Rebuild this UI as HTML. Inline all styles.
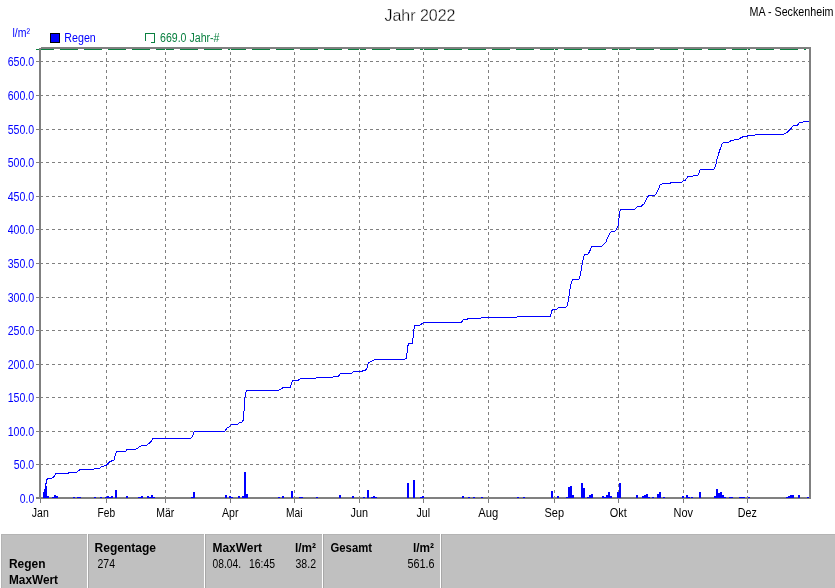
<!DOCTYPE html><html><head><meta charset="utf-8"><title>Jahr 2022</title>
<style>html,body{margin:0;padding:0;background:#fff;}body{width:835px;height:588px;overflow:hidden;font-family:"Liberation Sans",sans-serif;}svg{display:block;will-change:transform;}text{font-family:"Liberation Sans",sans-serif;}</style></head><body>
<svg width="835" height="588" viewBox="0 0 835 588">
<rect x="0" y="0" width="835" height="588" fill="#ffffff"/>
<g shape-rendering="crispEdges" stroke="#808080" stroke-width="1" stroke-dasharray="3 3">
<line x1="46" y1="61.5" x2="809" y2="61.5"/>
<line x1="46" y1="95.5" x2="809" y2="95.5"/>
<line x1="46" y1="129.5" x2="809" y2="129.5"/>
<line x1="46" y1="162.5" x2="809" y2="162.5"/>
<line x1="46" y1="196.5" x2="809" y2="196.5"/>
<line x1="46" y1="229.5" x2="809" y2="229.5"/>
<line x1="46" y1="263.5" x2="809" y2="263.5"/>
<line x1="46" y1="297.5" x2="809" y2="297.5"/>
<line x1="46" y1="330.5" x2="809" y2="330.5"/>
<line x1="46" y1="364.5" x2="809" y2="364.5"/>
<line x1="46" y1="397.5" x2="809" y2="397.5"/>
<line x1="46" y1="431.5" x2="809" y2="431.5"/>
<line x1="46" y1="464.5" x2="809" y2="464.5"/>
<line x1="106.5" y1="52" x2="106.5" y2="497"/>
<line x1="165.5" y1="52" x2="165.5" y2="497"/>
<line x1="230.5" y1="52" x2="230.5" y2="497"/>
<line x1="294.5" y1="52" x2="294.5" y2="497"/>
<line x1="359.5" y1="52" x2="359.5" y2="497"/>
<line x1="423.5" y1="52" x2="423.5" y2="497"/>
<line x1="488.5" y1="52" x2="488.5" y2="497"/>
<line x1="554.5" y1="52" x2="554.5" y2="497"/>
<line x1="618.5" y1="52" x2="618.5" y2="497"/>
<line x1="683.5" y1="52" x2="683.5" y2="497"/>
<line x1="747.5" y1="52" x2="747.5" y2="497"/>
</g>
<g shape-rendering="crispEdges"><line x1="36" y1="49.5" x2="806" y2="49.5" stroke="#0a8040" stroke-width="1" stroke-dasharray="18 6"/>
<rect x="106" y="49" width="1" height="1" fill="#f4f4f4"/>
<rect x="165" y="49" width="1" height="1" fill="#f4f4f4"/>
<rect x="230" y="49" width="1" height="1" fill="#f4f4f4"/>
<rect x="294" y="49" width="1" height="1" fill="#f4f4f4"/>
<rect x="359" y="49" width="1" height="1" fill="#f4f4f4"/>
<rect x="423" y="49" width="1" height="1" fill="#f4f4f4"/>
<rect x="488" y="49" width="1" height="1" fill="#f4f4f4"/>
<rect x="554" y="49" width="1" height="1" fill="#f4f4f4"/>
<rect x="618" y="49" width="1" height="1" fill="#f4f4f4"/>
<rect x="683" y="49" width="1" height="1" fill="#f4f4f4"/>
<rect x="747" y="49" width="1" height="1" fill="#f4f4f4"/>
</g>
<polyline points="45.6,487.0 46.4,480.3 48.2,478.3 51.8,478.3 53.6,477.0 56.0,473.4 67.9,473.4 69.7,472.2 76.9,472.2 80.3,469.3 93.7,469.3 94.9,468.3 99.7,468.3 101.5,466.3 104.5,465.9 106.5,465.1 109.9,461.7 114.0,459.9 115.5,454.0 117.0,451.6 125.4,451.6 127.2,449.3 135.8,449.3 138.7,447.3 142.2,445.4 146.6,445.4 150.9,441.8 153.3,438.2 191.1,438.2 192.5,436.8 194.4,431.3 224.9,431.3 227.0,428.1 229.2,426.7 231.4,424.6 237.8,424.6 239.3,422.4 242.1,422.1 243.4,419.8 243.9,413.3 244.6,401.8 245.3,393.2 247.2,390.3 278.1,390.3 281.0,389.3 283.4,387.1 290.3,387.1 291.5,383.1 292.5,380.7 298.2,380.4 300.4,378.4 315.5,378.4 316.9,377.4 332.7,377.4 333.4,376.6 338.5,376.4 340.3,373.5 351.4,373.4 353.6,371.2 362.2,371.2 363.7,370.2 366.6,369.9 367.6,365.0 368.7,362.5 371.6,361.4 375.2,359.2 404.6,359.2 406.4,358.1 407.2,352.0 407.8,346.3 408.7,343.4 412.3,343.1 413.0,338.4 413.7,330.5 414.7,325.5 419.7,325.5 423.3,322.6 461.4,322.5 463.1,319.6 467.2,319.2 468.7,318.4 480.9,318.1 482.0,317.4 516.8,317.4 517.5,316.4 550.6,316.4 551.6,311.3 552.7,309.5 556.3,309.5 558.5,307.3 565.7,307.3 567.5,305.6 568.5,299.1 570.0,289.1 571.4,281.9 573.0,279.3 579.4,279.0 580.6,273.3 582.3,263.2 583.7,256.8 584.7,254.3 588.3,254.0 591.9,246.4 601.7,246.1 605.7,242.4 609.6,233.3 611.5,231.3 615.3,231.0 617.9,226.6 618.9,218.7 619.6,212.2 620.6,209.6 634.4,209.5 637.4,206.5 641.3,206.2 644.5,203.3 647.2,197.5 649.1,195.4 654.4,195.4 656.6,193.2 658.7,188.9 660.2,184.6 663.0,183.5 670.2,183.2 671.6,182.5 681.7,182.2 683.4,180.6 685.3,180.3 688.2,176.4 692.5,176.1 693.9,175.4 698.2,175.1 700.4,169.2 713.8,169.1 715.5,166.4 716.8,159.5 719.8,150.1 722.1,143.9 723.2,142.5 728.5,142.3 731.5,140.4 737.9,139.4 743.6,136.4 747.4,136.1 748.7,135.4 755.2,135.1 756.7,134.3 783.3,134.3 787.6,132.1 791.2,128.5 793.3,125.2 797.6,125.1 799.5,122.5 802.7,122.2 804.1,121.2 809.0,121.2" fill="none" stroke="#0000ff" stroke-width="1" stroke-linejoin="round" shape-rendering="crispEdges"/>
<g shape-rendering="crispEdges" fill="#808080">
<rect x="39" y="48" width="2" height="451"/>
<rect x="41" y="47" width="770" height="2"/>
<rect x="809" y="47" width="2" height="452"/>
<rect x="36" y="497" width="775" height="2"/>
<rect x="36" y="61" width="7" height="1"/>
<rect x="36" y="95" width="7" height="1"/>
<rect x="36" y="129" width="7" height="1"/>
<rect x="36" y="162" width="7" height="1"/>
<rect x="36" y="196" width="7" height="1"/>
<rect x="36" y="229" width="7" height="1"/>
<rect x="36" y="263" width="7" height="1"/>
<rect x="36" y="297" width="7" height="1"/>
<rect x="36" y="330" width="7" height="1"/>
<rect x="36" y="364" width="7" height="1"/>
<rect x="36" y="397" width="7" height="1"/>
<rect x="36" y="431" width="7" height="1"/>
<rect x="36" y="464" width="7" height="1"/>
<rect x="40" y="499" width="1" height="4"/>
<rect x="106" y="499" width="1" height="4"/>
<rect x="165" y="499" width="1" height="4"/>
<rect x="230" y="499" width="1" height="4"/>
<rect x="294" y="499" width="1" height="4"/>
<rect x="359" y="499" width="1" height="4"/>
<rect x="423" y="499" width="1" height="4"/>
<rect x="488" y="499" width="1" height="4"/>
<rect x="554" y="499" width="1" height="4"/>
<rect x="618" y="499" width="1" height="4"/>
<rect x="683" y="499" width="1" height="4"/>
<rect x="747" y="499" width="1" height="4"/>
</g>
<g shape-rendering="crispEdges" fill="#0000ff">
<rect x="43" y="492" width="1" height="6"/>
<rect x="44" y="489" width="1" height="9"/>
<rect x="45" y="486" width="2" height="12"/>
<rect x="47" y="496" width="2" height="2"/>
<rect x="52" y="497" width="2" height="1"/>
<rect x="54" y="495" width="2" height="3"/>
<rect x="56" y="496" width="2" height="2"/>
<rect x="73" y="497" width="2" height="1"/>
<rect x="77" y="497" width="4" height="1"/>
<rect x="94" y="497" width="2" height="1"/>
<rect x="100" y="497" width="2" height="1"/>
<rect x="105" y="497" width="2" height="1"/>
<rect x="107" y="496" width="2" height="2"/>
<rect x="109" y="497" width="2" height="1"/>
<rect x="111" y="496" width="2" height="2"/>
<rect x="115" y="490" width="2" height="8"/>
<rect x="126" y="496" width="2" height="2"/>
<rect x="138" y="497" width="3" height="1"/>
<rect x="141" y="496" width="2" height="2"/>
<rect x="147" y="496" width="2" height="2"/>
<rect x="149" y="497" width="2" height="1"/>
<rect x="151" y="495" width="2" height="3"/>
<rect x="153" y="497" width="2" height="1"/>
<rect x="191" y="497" width="2" height="1"/>
<rect x="193" y="492" width="2" height="6"/>
<rect x="225" y="495" width="2" height="3"/>
<rect x="229" y="496" width="2" height="2"/>
<rect x="231" y="497" width="2" height="1"/>
<rect x="238" y="496" width="2" height="2"/>
<rect x="242" y="496" width="2" height="2"/>
<rect x="244" y="472" width="2" height="26"/>
<rect x="246" y="494" width="2" height="4"/>
<rect x="278" y="497" width="2" height="1"/>
<rect x="282" y="496" width="2" height="2"/>
<rect x="291" y="491" width="2" height="7"/>
<rect x="299" y="497" width="4" height="1"/>
<rect x="316" y="497" width="2" height="1"/>
<rect x="339" y="495" width="2" height="3"/>
<rect x="352" y="496" width="2" height="2"/>
<rect x="363" y="497" width="2" height="1"/>
<rect x="367" y="490" width="2" height="8"/>
<rect x="371" y="497" width="2" height="1"/>
<rect x="373" y="496" width="2" height="2"/>
<rect x="375" y="497" width="2" height="1"/>
<rect x="407" y="483" width="2" height="15"/>
<rect x="413" y="480" width="2" height="18"/>
<rect x="420" y="497" width="2" height="1"/>
<rect x="422" y="496" width="2" height="2"/>
<rect x="462" y="496" width="2" height="2"/>
<rect x="468" y="497" width="2" height="1"/>
<rect x="473" y="497" width="2" height="1"/>
<rect x="481" y="497" width="2" height="1"/>
<rect x="517" y="497" width="2" height="1"/>
<rect x="523" y="497" width="2" height="1"/>
<rect x="551" y="491" width="2" height="7"/>
<rect x="557" y="496" width="2" height="2"/>
<rect x="566" y="497" width="2" height="1"/>
<rect x="568" y="487" width="2" height="11"/>
<rect x="570" y="486" width="2" height="12"/>
<rect x="572" y="495" width="2" height="3"/>
<rect x="581" y="483" width="2" height="15"/>
<rect x="583" y="488" width="2" height="10"/>
<rect x="587" y="497" width="2" height="1"/>
<rect x="589" y="495" width="2" height="3"/>
<rect x="591" y="494" width="2" height="4"/>
<rect x="602" y="496" width="2" height="2"/>
<rect x="604" y="497" width="2" height="1"/>
<rect x="606" y="495" width="2" height="3"/>
<rect x="608" y="492" width="2" height="6"/>
<rect x="610" y="496" width="2" height="2"/>
<rect x="617" y="492" width="2" height="6"/>
<rect x="619" y="483" width="2" height="15"/>
<rect x="636" y="495" width="2" height="3"/>
<rect x="642" y="496" width="2" height="2"/>
<rect x="644" y="495" width="2" height="3"/>
<rect x="646" y="494" width="2" height="4"/>
<rect x="648" y="497" width="2" height="1"/>
<rect x="652" y="497" width="2" height="1"/>
<rect x="657" y="494" width="2" height="4"/>
<rect x="659" y="492" width="2" height="6"/>
<rect x="663" y="497" width="2" height="1"/>
<rect x="682" y="496" width="2" height="2"/>
<rect x="686" y="495" width="2" height="3"/>
<rect x="688" y="497" width="2" height="1"/>
<rect x="691" y="497" width="2" height="1"/>
<rect x="699" y="492" width="2" height="6"/>
<rect x="714" y="496" width="2" height="2"/>
<rect x="716" y="489" width="2" height="9"/>
<rect x="718" y="493" width="2" height="5"/>
<rect x="720" y="492" width="2" height="6"/>
<rect x="722" y="495" width="2" height="3"/>
<rect x="724" y="497" width="2" height="1"/>
<rect x="729" y="497" width="4" height="1"/>
<rect x="739" y="497" width="6" height="1"/>
<rect x="748" y="497" width="2" height="1"/>
<rect x="786" y="497" width="2" height="1"/>
<rect x="788" y="496" width="2" height="2"/>
<rect x="790" y="495" width="4" height="3"/>
<rect x="798" y="495" width="2" height="3"/>
<rect x="807" y="497" width="2" height="1"/>
</g>
<text x="7.700000000000003" y="65.5" font-size="12" fill="#0000ff" textLength="26.5" lengthAdjust="spacingAndGlyphs">650.0</text>
<text x="7.700000000000003" y="99.5" font-size="12" fill="#0000ff" textLength="26.5" lengthAdjust="spacingAndGlyphs">600.0</text>
<text x="7.700000000000003" y="133.5" font-size="12" fill="#0000ff" textLength="26.5" lengthAdjust="spacingAndGlyphs">550.0</text>
<text x="7.700000000000003" y="166.5" font-size="12" fill="#0000ff" textLength="26.5" lengthAdjust="spacingAndGlyphs">500.0</text>
<text x="7.700000000000003" y="200.5" font-size="12" fill="#0000ff" textLength="26.5" lengthAdjust="spacingAndGlyphs">450.0</text>
<text x="7.700000000000003" y="233.5" font-size="12" fill="#0000ff" textLength="26.5" lengthAdjust="spacingAndGlyphs">400.0</text>
<text x="7.700000000000003" y="267.5" font-size="12" fill="#0000ff" textLength="26.5" lengthAdjust="spacingAndGlyphs">350.0</text>
<text x="7.700000000000003" y="301.5" font-size="12" fill="#0000ff" textLength="26.5" lengthAdjust="spacingAndGlyphs">300.0</text>
<text x="7.700000000000003" y="334.5" font-size="12" fill="#0000ff" textLength="26.5" lengthAdjust="spacingAndGlyphs">250.0</text>
<text x="7.700000000000003" y="368.5" font-size="12" fill="#0000ff" textLength="26.5" lengthAdjust="spacingAndGlyphs">200.0</text>
<text x="7.700000000000003" y="401.5" font-size="12" fill="#0000ff" textLength="26.5" lengthAdjust="spacingAndGlyphs">150.0</text>
<text x="7.700000000000003" y="435.5" font-size="12" fill="#0000ff" textLength="26.5" lengthAdjust="spacingAndGlyphs">100.0</text>
<text x="13.700000000000003" y="468.5" font-size="12" fill="#0000ff" textLength="20.5" lengthAdjust="spacingAndGlyphs">50.0</text>
<text x="19.700000000000003" y="502.5" font-size="12" fill="#0000ff" textLength="14.5" lengthAdjust="spacingAndGlyphs">0.0</text>
<text x="31.799999999999997" y="516.6" font-size="12" fill="#000" textLength="17" lengthAdjust="spacingAndGlyphs">Jan</text>
<text x="97.55" y="516.6" font-size="12" fill="#000" textLength="17.5" lengthAdjust="spacingAndGlyphs">Feb</text>
<text x="156.3" y="516.6" font-size="12" fill="#000" textLength="18" lengthAdjust="spacingAndGlyphs">Mär</text>
<text x="222.05" y="516.6" font-size="12" fill="#000" textLength="16.5" lengthAdjust="spacingAndGlyphs">Apr</text>
<text x="286.05" y="516.6" font-size="12" fill="#000" textLength="16.5" lengthAdjust="spacingAndGlyphs">Mai</text>
<text x="350.55" y="516.6" font-size="12" fill="#000" textLength="17.5" lengthAdjust="spacingAndGlyphs">Jun</text>
<text x="416.55" y="516.6" font-size="12" fill="#000" textLength="13.5" lengthAdjust="spacingAndGlyphs">Jul</text>
<text x="478.3" y="516.6" font-size="12" fill="#000" textLength="20" lengthAdjust="spacingAndGlyphs">Aug</text>
<text x="544.55" y="516.6" font-size="12" fill="#000" textLength="19.5" lengthAdjust="spacingAndGlyphs">Sep</text>
<text x="609.8" y="516.6" font-size="12" fill="#000" textLength="17" lengthAdjust="spacingAndGlyphs">Okt</text>
<text x="673.55" y="516.6" font-size="12" fill="#000" textLength="19.5" lengthAdjust="spacingAndGlyphs">Nov</text>
<text x="737.8" y="516.6" font-size="12" fill="#000" textLength="19" lengthAdjust="spacingAndGlyphs">Dez</text>
<text x="384.5" y="21" font-size="16" fill="#000" stroke="#fff" stroke-width="0.3" textLength="71" lengthAdjust="spacingAndGlyphs">Jahr 2022</text>
<text x="749.5" y="15.5" font-size="12" fill="#000" textLength="84" lengthAdjust="spacingAndGlyphs">MA - Seckenheim</text>
<text x="12.5" y="37" font-size="12" fill="#0000ff" textLength="17.5" lengthAdjust="spacingAndGlyphs">l/m²</text>
<rect x="50.5" y="33.5" width="9" height="9" fill="#0000ff" stroke="#000" stroke-width="1" shape-rendering="crispEdges"/>
<text x="64.3" y="41.5" font-size="12" fill="#0000ff" textLength="31.5" lengthAdjust="spacingAndGlyphs">Regen</text>
<path d="M145.5 41 V33.5 H154.5 V42.5 H151" fill="none" stroke="#0a8040" stroke-width="1" shape-rendering="crispEdges"/>
<text x="160" y="41.5" font-size="12" fill="#0a8040" textLength="59.5" lengthAdjust="spacingAndGlyphs">669.0 Jahr-#</text>
<g shape-rendering="crispEdges">
<rect x="1" y="534" width="834" height="54" fill="#c0c0c0"/>
<rect x="1" y="534" width="834" height="1" fill="#b4b4b4"/>
<rect x="1" y="534" width="1" height="54" fill="#b4b4b4"/>
<rect x="87" y="534" width="1" height="54" fill="#ffffff"/>
<rect x="88" y="534" width="1" height="54" fill="#a8a8a8"/>
<rect x="204" y="534" width="1" height="54" fill="#ffffff"/>
<rect x="205" y="534" width="1" height="54" fill="#a8a8a8"/>
<rect x="322" y="534" width="1" height="54" fill="#ffffff"/>
<rect x="323" y="534" width="1" height="54" fill="#a8a8a8"/>
<rect x="440" y="534" width="1" height="54" fill="#ffffff"/>
<rect x="441" y="534" width="1" height="54" fill="#a8a8a8"/>
</g>
<text x="9" y="568" font-size="12" fill="#000" font-weight="bold" textLength="36.5" lengthAdjust="spacingAndGlyphs">Regen</text>
<text x="9" y="584" font-size="12" fill="#000" font-weight="bold" textLength="49" lengthAdjust="spacingAndGlyphs">MaxWert</text>
<text x="94.5" y="552" font-size="12" fill="#000" font-weight="bold" textLength="61.5" lengthAdjust="spacingAndGlyphs">Regentage</text>
<text x="97.5" y="568" font-size="12" fill="#000" textLength="17.5" lengthAdjust="spacingAndGlyphs">274</text>
<text x="212.5" y="552" font-size="12" fill="#000" font-weight="bold" textLength="49.5" lengthAdjust="spacingAndGlyphs">MaxWert</text>
<text x="295" y="552" font-size="12" fill="#000" font-weight="bold" textLength="21" lengthAdjust="spacingAndGlyphs">l/m²</text>
<text x="212.5" y="568" font-size="12" fill="#000" textLength="28.5" lengthAdjust="spacingAndGlyphs">08.04.</text>
<text x="249" y="568" font-size="12" fill="#000" textLength="26" lengthAdjust="spacingAndGlyphs">16:45</text>
<text x="295.5" y="568" font-size="12" fill="#000" textLength="20.5" lengthAdjust="spacingAndGlyphs">38.2</text>
<text x="330.5" y="552" font-size="12" fill="#000" font-weight="bold" textLength="41.5" lengthAdjust="spacingAndGlyphs">Gesamt</text>
<text x="413" y="552" font-size="12" fill="#000" font-weight="bold" textLength="21" lengthAdjust="spacingAndGlyphs">l/m²</text>
<text x="407.5" y="568" font-size="12" fill="#000" textLength="27" lengthAdjust="spacingAndGlyphs">561.6</text>
</svg></body></html>
